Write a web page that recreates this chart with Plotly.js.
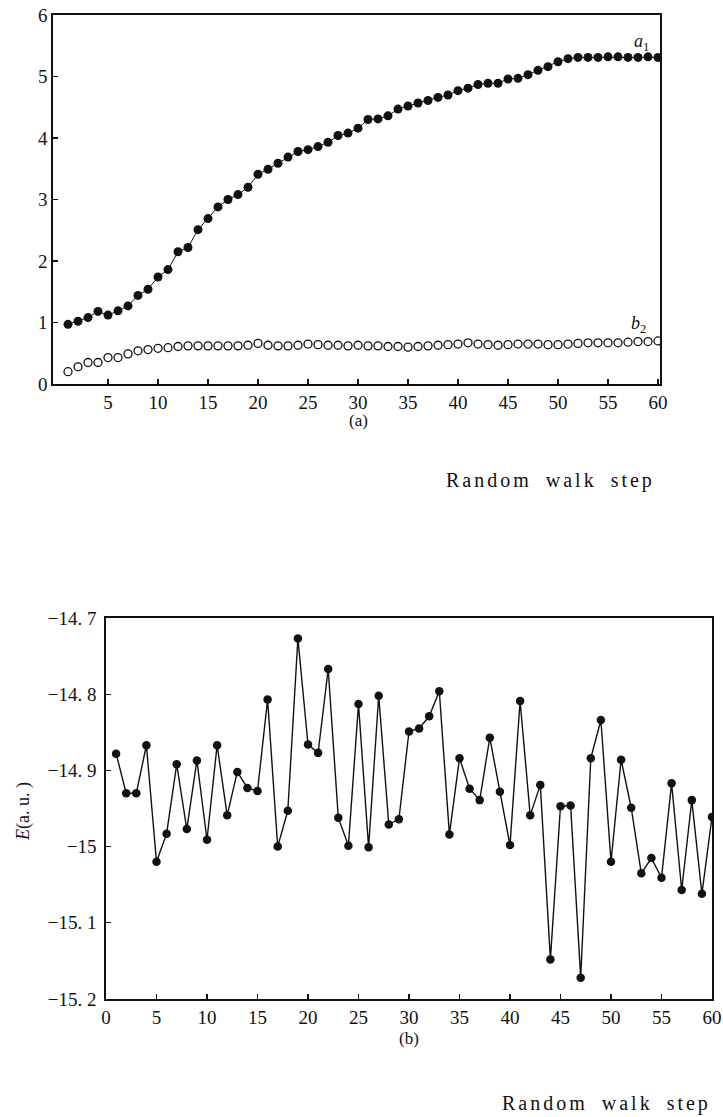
<!DOCTYPE html>
<html>
<head>
<meta charset="utf-8">
<script src="https://cdn.plot.ly/plotly-3.0.1.min.js"></script>
<style>
  html, body { margin: 0; padding: 0; background: #fff; }
  #chart { width: 723px; height: 1117px; }
</style>
</head>
<body>
<div id="chart"></div>
<script>
// Random walk step index (shared by both panels)
const steps = [1,2,3,4,5,6,7,8,9,10,11,12,13,14,15,16,17,18,19,20,
               21,22,23,24,25,26,27,28,29,30,31,32,33,34,35,36,37,38,39,40,
               41,42,43,44,45,46,47,48,49,50,51,52,53,54,55,56,57,58,59,60];

// Panel (a): parameter a1 (filled) and b2 (open)
const a1 = [0.97,1.02,1.08,1.18,1.12,1.19,1.27,1.44,1.54,1.74,
            1.86,2.15,2.22,2.51,2.69,2.88,3.00,3.08,3.20,3.41,
            3.49,3.59,3.69,3.78,3.81,3.86,3.93,4.04,4.08,4.16,
            4.30,4.31,4.36,4.47,4.52,4.57,4.61,4.66,4.70,4.77,
            4.81,4.87,4.89,4.89,4.96,4.97,5.03,5.10,5.16,5.24,
            5.29,5.31,5.31,5.31,5.32,5.32,5.31,5.31,5.32,5.31];
const b2 = [0.20,0.28,0.35,0.35,0.43,0.43,0.49,0.54,0.56,0.58,
            0.59,0.61,0.62,0.62,0.62,0.62,0.62,0.62,0.63,0.66,
            0.63,0.62,0.62,0.63,0.65,0.64,0.63,0.63,0.62,0.63,
            0.62,0.62,0.61,0.61,0.60,0.61,0.62,0.63,0.64,0.65,
            0.67,0.65,0.64,0.63,0.64,0.65,0.65,0.65,0.64,0.64,
            0.65,0.66,0.67,0.67,0.67,0.67,0.68,0.69,0.69,0.70];

// Panel (b): energy E (a.u.) at each step
const energy = [-14.878,-14.930,-14.930,-14.867,-15.020,-14.983,-14.892,-14.977,-14.887,-14.991,
                -14.867,-14.959,-14.902,-14.923,-14.927,-14.807,-15.000,-14.953,-14.727,-14.866,
                -14.877,-14.767,-14.962,-14.999,-14.813,-15.001,-14.802,-14.971,-14.964,-14.849,
                -14.845,-14.829,-14.796,-14.984,-14.884,-14.924,-14.939,-14.857,-14.928,-14.998,
                -14.809,-14.959,-14.919,-15.148,-14.947,-14.946,-15.172,-14.884,-14.834,-15.020,
                -14.886,-14.949,-15.035,-15.015,-15.041,-14.917,-15.057,-14.939,-15.062,-14.961];

// Tick labels
const xTicksA = [5,10,15,20,25,30,35,40,45,50,55,60];
const yTicksA = [0,1,2,3,4,5,6];
const xTicksB = [0,5,10,15,20,25,30,35,40,45,50,55,60];
const yTicksB = [-14.7,-14.8,-14.9,-15.0,-15.1,-15.2];
const yLabelsB = ['\u221214. 7','\u221214. 8','\u221214. 9','\u221215','\u221215. 1','\u221215. 2'];

const SERIF = "'Liberation Serif', 'Times New Roman', serif";
const INK = '#111';

const traces = [
  {
    x: steps, y: a1, xaxis: 'x', yaxis: 'y',
    mode: 'lines+markers', type: 'scatter',
    line: { color: INK, width: 1 },
    marker: { symbol: 'circle', size: 9, color: INK },
    hoverinfo: 'skip'
  },
  {
    x: steps, y: b2, xaxis: 'x', yaxis: 'y',
    mode: 'markers', type: 'scatter',
    marker: { symbol: 'circle-open', size: 8, color: INK, line: { width: 1.3, color: INK } },
    hoverinfo: 'skip'
  },
  {
    x: steps, y: energy, xaxis: 'x2', yaxis: 'y2',
    mode: 'lines+markers', type: 'scatter',
    line: { color: INK, width: 1.4 },
    marker: { symbol: 'circle', size: 8.5, color: INK },
    hoverinfo: 'skip'
  }
];

const axisCommon = {
  showline: true, mirror: true, linecolor: INK, linewidth: 1.7,
  ticks: 'inside', ticklen: 5, tickwidth: 1.2, tickcolor: INK,
  showgrid: false, zeroline: false,
  tickfont: { family: SERIF, size: 19, color: INK }
};

function label(extra) {
  return Object.assign({ showarrow: false, xanchor: 'center', yanchor: 'middle' }, extra);
}

const layout = {
  width: 723, height: 1117,
  margin: { l: 0, r: 0, t: 0, b: 0 },
  paper_bgcolor: '#fff', plot_bgcolor: '#fff',
  showlegend: false,
  xaxis: Object.assign({}, axisCommon, {
    domain: [53/723, 660/723], range: [-0.5, 60.2],
    tickmode: 'array', tickvals: xTicksA, anchor: 'y'
  }),
  yaxis: Object.assign({}, axisCommon, {
    domain: [(1117-384)/1117, (1117-15)/1117], range: [0, 6],
    tickmode: 'array', tickvals: yTicksA, anchor: 'x'
  }),
  xaxis2: Object.assign({}, axisCommon, {
    domain: [106/723, 712/723], range: [0, 60],
    tickmode: 'array', tickvals: xTicksB, anchor: 'y2'
  }),
  yaxis2: Object.assign({}, axisCommon, {
    domain: [(1117-999)/1117, (1117-618)/1117], range: [-15.2, -14.7],
    tickmode: 'array', tickvals: yTicksB, ticktext: yLabelsB, anchor: 'x2',
    ticklabelstandoff: 4
  }),
  annotations: [
    label({ xref: 'x', yref: 'y', x: 58.3, y: 5.55, text: '<i>a</i><sub>1</sub>',
      font: { family: SERIF, size: 18, color: INK } }),
    label({ xref: 'x', yref: 'y', x: 58.0, y: 0.96, text: '<i>b</i><sub>2</sub>',
      font: { family: SERIF, size: 18, color: INK } }),
    label({ xref: 'x', yref: 'paper', x: 30, y: (1117-420)/1117, text: '(a)',
      font: { family: SERIF, size: 17, color: INK } }),
    label({ xref: 'x2', yref: 'paper', x: 30, y: (1117-1038)/1117, text: '(b)',
      font: { family: SERIF, size: 17, color: INK } }),
    label({ xref: 'paper', yref: 'paper', x: 550/723, y: (1117-480)/1117, text: 'Random walk step',
      font: { family: SERIF, size: 20, color: INK } }),
    label({ xref: 'paper', yref: 'paper', x: 606/723, y: (1117-1103)/1117, text: 'Random walk step',
      font: { family: SERIF, size: 20, color: INK } }),
    label({ xref: 'paper', yref: 'paper', x: 23/723, y: (1117-812)/1117, text: '<i>E</i>(a. u. )',
      textangle: -90, font: { family: SERIF, size: 18, color: INK } })
  ]
};

Plotly.newPlot('chart', traces, layout, { staticPlot: true, displayModeBar: false }).then(function (gd) {
  // widen the letter spacing of the axis captions
  gd.querySelectorAll('.annotation-text').forEach(function (t) {
    if (t.textContent === 'Random walk step') {
      t.style.letterSpacing = '3px';
      t.style.wordSpacing = '6px';
    }
  });
});
</script>
</body>
</html>
